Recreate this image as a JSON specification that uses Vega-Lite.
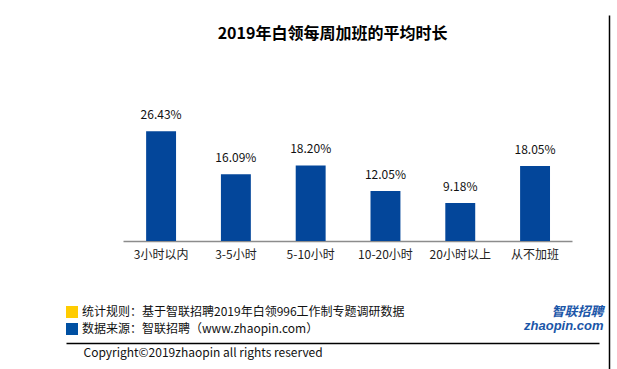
{
  "$schema": "https://vega.github.io/schema/vega-lite/v6.json",
  "width": 543,
  "height": 354,
  "autosize": {"type": "none"},
  "padding": {"left": 66, "top": 15, "right": 8, "bottom": 0},
  "background": "white",
  "config": {"view": {"stroke": null}, "font": "Noto Sans CJK SC"},
  "title": {
    "text": "2019年白领每周加班的平均时长",
    "fontSize": 16,
    "fontWeight": "bold",
    "color": "#000000",
    "anchor": "middle",
    "frame": "group",
    "baseline": "middle",
    "offset": -18,
    "dx": -5,
    "dy": 17
  },
  "datasets": {
    "bars": [
      {"category": "3小时以内", "value": 0.2643},
      {"category": "3-5小时", "value": 0.1609},
      {"category": "5-10小时", "value": 0.1820},
      {"category": "10-20小时", "value": 0.1205},
      {"category": "20小时以上", "value": 0.0918},
      {"category": "从不加班", "value": 0.1805}
    ],
    "notes": [
      {"note": "统计规则：基于智联招聘2019年白领996工作制专题调研数据"},
      {"note": "数据来源：智联招聘（www.zhaopin.com）"}
    ]
  },
  "layer": [
    {
      "data": {"name": "bars"},
      "mark": {"type": "bar", "color": "#03469A"},
      "encoding": {
        "x": {
          "field": "category",
          "type": "nominal",
          "sort": null,
          "scale": {"paddingInner": 0.6, "paddingOuter": 0.93, "align": 0.576},
          "axis": {
            "orient": "bottom",
            "offset": -128,
            "domain": true,
            "domainColor": "#8c8c8c",
            "domainWidth": 1.5,
            "domainDash": [0, 57, 449, 2000],
            "ticks": false,
            "grid": false,
            "labelAngle": 0,
            "labelPadding": 8,
            "labelFontSize": 12,
            "labelColor": "#222222",
            "title": "Copyright©2019zhaopin all rights reserved",
            "titleFontSize": 12,
            "titleFontWeight": "normal",
            "titleColor": "#111111",
            "titleAnchor": "start",
            "titleAlign": "left",
            "titleBaseline": "middle",
            "titleX": 17,
            "titleY": 111
          }
        },
        "y": {
          "field": "value",
          "type": "quantitative",
          "stack": null,
          "scale": {"domain": [-0.3084, 0.5446], "nice": false, "zero": false},
          "axis": {
            "orient": "right",
            "domain": true,
            "domainColor": "#000000",
            "domainWidth": 1.5,
            "labels": false,
            "ticks": false,
            "grid": false,
            "title": ["智联招聘", "zhaopin.com"],
            "titleAngle": 0,
            "titleAlign": "right",
            "titleBaseline": "middle",
            "titleX": -6,
            "titleY": 296,
            "titleFontSize": 13,
            "titleLineHeight": 14,
            "titleFontStyle": "italic",
            "titleFontWeight": "bold",
            "titleColor": "#1a56a8",
            "titleFont": "Liberation Sans, Noto Sans CJK SC"
          }
        },
        "y2": {"datum": 0}
      }
    },
    {
      "data": {"name": "bars"},
      "mark": {"type": "text", "dy": -16, "baseline": "middle", "fontSize": 12, "color": "#111111"},
      "encoding": {
        "x": {
          "field": "category",
          "type": "nominal",
          "sort": null,
          "axis": {
            "orient": "top",
            "offset": -328,
            "domain": true,
            "domainColor": "#000000",
            "domainWidth": 1.5,
            "domainDash": [533, 2000],
            "labels": false,
            "ticks": false,
            "grid": false,
            "title": null
          }
        },
        "y": {"field": "value", "type": "quantitative"},
        "text": {"field": "value", "type": "quantitative", "format": ".2%"}
      }
    },
    {
      "data": {"name": "notes"},
      "mark": {"type": "square", "opacity": 0},
      "encoding": {
        "color": {
          "field": "note",
          "type": "nominal",
          "scale": {
            "domain": ["统计规则：基于智联招聘2019年白领996工作制专题调研数据", "数据来源：智联招聘（www.zhaopin.com）"],
            "range": ["#FFCC00", "#0050A2"]
          },
          "legend": {
            "orient": "none",
            "legendX": 0,
            "legendY": 291,
            "title": null,
            "padding": 0,
            "symbolType": "square",
            "symbolSize": 144,
            "symbolOpacity": 1,
            "symbolStrokeWidth": 0,
            "labelFontSize": 12,
            "labelLimit": 0,
            "labelOffset": 4,
            "rowPadding": 5,
            "labelColor": "#111111"
          }
        }
      }
    }
  ],
  "resolve": {"axis": {"x": "independent"}}
}
